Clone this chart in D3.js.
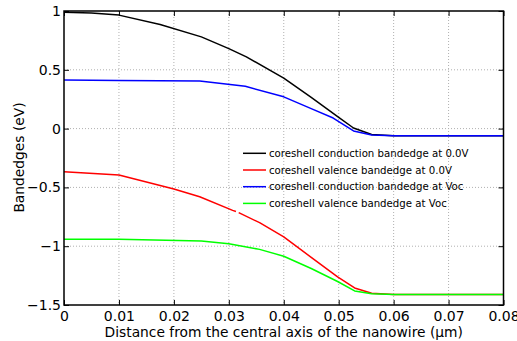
<!DOCTYPE html>
<html>
<head>
<meta charset="utf-8">
<script src="https://cdn.jsdelivr.net/npm/d3@7"></script>
<style>
  body { margin: 0; background: #fff; }
  text { font-family: "DejaVu Sans", sans-serif; fill: #000; }
</style>
</head>
<body>
<svg id="chart" width="517" height="341"></svg>
<script>
// distance (um) and band energy (eV)
const blackX = [0, 0.005, 0.01, 0.0175, 0.025, 0.03, 0.0332, 0.04, 0.045, 0.05, 0.0527, 0.056, 0.06, 0.07, 0.08];
const blackY = [0.99, 0.982, 0.965, 0.885, 0.78, 0.68, 0.61, 0.43, 0.265, 0.095, 0.005, -0.05, -0.06, -0.06, -0.06];

const redX = [0, 0.01, 0.02, 0.0247, 0.0307, 0.0313, 0.0315, 0.0318, 0.0356, 0.04, 0.045, 0.0498, 0.0529, 0.056, 0.06, 0.08];
const redY = [-0.366, -0.395, -0.513, -0.58, -0.695, -0.705, null, -0.715, -0.80, -0.92, -1.095, -1.26, -1.355, -1.40, -1.41, -1.41];

const blueX = [0, 0.01, 0.0247, 0.033, 0.04, 0.045, 0.049, 0.0527, 0.056, 0.06, 0.08];
const blueY = [0.413, 0.41, 0.405, 0.36, 0.27, 0.17, 0.09, -0.02, -0.055, -0.06, -0.06];

const greenX = [0, 0.01, 0.025, 0.03, 0.0356, 0.04, 0.045, 0.0498, 0.0529, 0.056, 0.06, 0.08];
const greenY = [-0.94, -0.94, -0.956, -0.98, -1.027, -1.085, -1.19, -1.30, -1.38, -1.405, -1.41, -1.41];

const seriesNames = [
  'coreshell conduction bandedge at 0.0V',
  'coreshell valence bandedge at 0.0V',
  'coreshell conduction bandedge at Voc',
  'coreshell valence bandedge at Voc'
];
const seriesColors = ['#000000', '#ff0000', '#0000ff', '#00ff00'];

const xTicks = [0, 0.01, 0.02, 0.03, 0.04, 0.05, 0.06, 0.07, 0.08];
const yTicks = [-1.5, -1, -0.5, 0, 0.5, 1];

const svg = d3.select('#chart');
const m = {left: 64, right: 503.5, top: 11, bottom: 305};

const x = d3.scaleLinear().domain([0, 0.08]).range([m.left, m.right]);
const y = d3.scaleLinear().domain([-1.5, 1]).range([m.bottom, m.top]);

// dotted grid
const grid = svg.append('g')
  .attr('stroke', '#b0b0b0')
  .attr('stroke-width', 1)
  .attr('stroke-dasharray', '1,2');
grid.selectAll('.gx').data(xTicks.slice(1, -1)).join('line')
  .attr('x1', d => x(d)).attr('x2', d => x(d))
  .attr('y1', m.top).attr('y2', m.bottom);
grid.selectAll('.gy').data(yTicks.slice(1, -1)).join('line')
  .attr('x1', m.left).attr('x2', m.right)
  .attr('y1', d => y(d)).attr('y2', d => y(d));

const fmt = d => (d < 0 ? '\u2212' : '') + Math.abs(d);

// axes with inward ticks
const axisB = d3.axisBottom(x).tickValues(xTicks).tickSize(-5).tickPadding(6).tickFormat(fmt);
const axisL = d3.axisLeft(y).tickValues(yTicks).tickSize(-5).tickPadding(3).tickFormat(fmt);
const axisT = d3.axisTop(x).tickValues(xTicks).tickSize(-5).tickFormat('');
const axisR = d3.axisRight(y).tickValues(yTicks).tickSize(-5).tickFormat('');

function styleAxis(g) {
  g.select('.domain').remove();
  g.selectAll('line').attr('stroke', '#000');
  g.selectAll('text').attr('font-size', 14).attr('font-family', '"DejaVu Sans", sans-serif');
}
svg.append('g').attr('transform', `translate(0,${m.bottom})`).call(axisB).call(styleAxis);
svg.append('g').attr('transform', `translate(${m.left},0)`).call(axisL).call(styleAxis);
svg.append('g').attr('transform', `translate(0,${m.top})`).call(axisT).call(styleAxis);
svg.append('g').attr('transform', `translate(${m.right},0)`).call(axisR).call(styleAxis);

// curves
const series = [
  {xs: blackX, ys: blackY},
  {xs: redX, ys: redY},
  {xs: blueX, ys: blueY},
  {xs: greenX, ys: greenY}
];
const line = d3.line()
  .defined(d => d[1] !== null)
  .x(d => x(d[0]))
  .y(d => y(d[1]));

series.forEach((s, i) => {
  svg.append('path')
    .datum(s.xs.map((v, j) => [v, s.ys[j]]))
    .attr('fill', 'none')
    .attr('stroke', seriesColors[i])
    .attr('stroke-width', 1.5)
    .attr('stroke-linejoin', 'round')
    .attr('d', line);
});

// frame
svg.append('rect')
  .attr('x', m.left).attr('y', m.top)
  .attr('width', m.right - m.left).attr('height', m.bottom - m.top)
  .attr('fill', 'none')
  .attr('stroke', '#000')
  .attr('stroke-width', 1.5);

// legend
const legend = svg.append('g');
seriesNames.forEach((name, i) => {
  const ly = 153.3 + i * 16.7;
  legend.append('line')
    .attr('x1', 243).attr('x2', 266)
    .attr('y1', ly).attr('y2', ly)
    .attr('stroke', seriesColors[i])
    .attr('stroke-width', 1.5);
  legend.append('text')
    .attr('x', 269).attr('y', ly)
    .attr('dy', '0.35em')
    .attr('font-size', 10.2)
    .text(name);
});

// axis titles
svg.append('text')
  .attr('x', (m.left + m.right) / 2).attr('y', 337)
  .attr('text-anchor', 'middle')
  .attr('font-size', 13.8)
  .text('Distance from the central axis of the nanowire (\u03bcm)');

svg.append('text')
  .attr('transform', 'translate(24,157.5) rotate(-90)')
  .attr('text-anchor', 'middle')
  .attr('font-size', 13.8)
  .text('Bandedges (eV)');
</script>
</body>
</html>
